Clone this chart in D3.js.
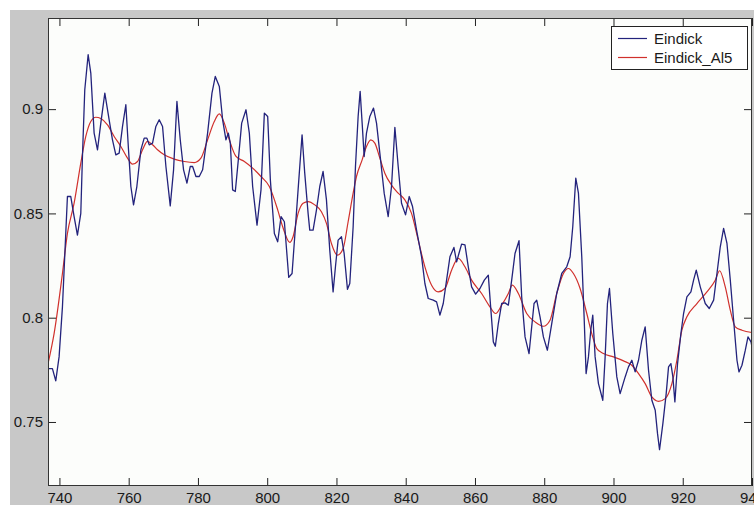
<!DOCTYPE html>
<html lang="en">
<head>
<meta charset="UTF-8">
<title>Eindick</title>
<script src="https://cdn.jsdelivr.net/npm/d3@7"></script>
<style>
  body { margin: 0; background: #fff; }
  .axis text { font: 15px "Liberation Sans", Arial, sans-serif; fill: #1a1a1a; }
  .axis path { display: none; }
  .axis line { stroke: #222; stroke-width: 1px; }
  .legend text { font: 15px "Liberation Sans", Arial, sans-serif; fill: #1a1a1a; }
</style>
</head>
<body>
<script>
// Eindick (raw)
let blueX = [736.8,737.98,738.94,739.9,740.87,741.83,742.31,743.28,744.24,745.2,746.17,746.65,747.32,748.29,749.06,750.02,
  750.99,751.95,753.11,754.36,755.32,756.29,757.25,758.22,759.18,759.95,760.63,761.4,762.36,763.52,764.48,765.25,765.93,
  766.89,767.85,768.82,769.78,770.75,772,772.96,773.93,774.89,775.85,776.82,777.78,778.46,779.42,780.38,781.35,782.79,
  784.05,785.01,786.17,787.13,788.09,788.77,789.35,790.02,790.79,791.66,792.63,793.88,794.84,795.8,797.06,798.21,799.18,
  800.14,800.91,802.07,803.03,804,804.96,806.22,807.18,807.95,808.92,810.07,810.84,811.81,812.29,813.25,814.22,815.18,
  816.14,817.11,818.07,819.03,819.71,820.48,821.45,822.22,823.18,823.85,824.82,825.49,826.26,826.84,827.42,828,828.67,
  829.64,830.7,831.57,832.53,833.78,834.94,835.9,836.87,837.83,838.79,839.95,841.01,841.97,843.13,844.58,845.54,846.5,
  847.95,848.91,849.88,850.84,851.8,852.77,853.92,854.7,855.37,856.14,857.11,858.07,859.03,860.19,861.44,862.7,863.85,
  864.53,865.3,865.88,866.74,867.71,868.67,869.64,870.6,871.56,872.72,873.49,874.46,875.61,876.38,877.06,877.83,878.79,
  879.76,880.91,882.17,883.61,885.06,886.5,887.47,888.24,889.11,889.88,890.84,891.52,892.09,892.77,893.44,894.02,894.7,
  895.66,896.91,897.59,898.26,898.84,899.8,900.96,901.92,903.37,904.33,905.3,906.26,907.23,908.19,909.15,910.12,911.08,
  912.05,912.72,913.3,914.26,915.22,915.9,916.58,917.15,917.73,918.5,919.47,920.24,921.2,922.36,923.13,923.9,925.06,
  926.5,927.66,928.92,929.88,930.84,931.8,932.77,933.73,934.69,935.66,936.24,937.1,938.07,938.84,939.71,940];
let blueY = [0.7756,0.7756,0.7697,0.7812,0.8052,0.8404,0.8581,0.8581,0.8485,0.8396,0.85,0.8773,0.9093,0.9261,0.9173,0.8885,
  0.8805,0.8933,0.9077,0.8949,0.8853,0.8781,0.8789,0.8917,0.9021,0.8805,0.8629,0.8541,0.8629,0.8805,0.8861,0.8861,0.8829,
  0.8837,0.8917,0.8949,0.8917,0.8725,0.8536,0.8709,0.9037,0.8853,0.8709,0.8645,0.8725,0.8725,0.8677,0.8677,0.8709,0.8885,
  0.9077,0.9157,0.9109,0.8949,0.8853,0.8885,0.8837,0.8613,0.8605,0.8757,0.8933,0.8997,0.8885,0.8629,0.8444,0.8613,0.8981,
  0.8965,0.8661,0.8404,0.8364,0.8485,0.846,0.8193,0.8212,0.8388,0.8613,0.8877,0.8693,0.85,0.842,0.842,0.8516,0.8629,
  0.8701,0.8565,0.8324,0.8124,0.8244,0.8372,0.8388,0.8308,0.8136,0.8164,0.8436,0.8725,0.8965,0.9085,0.8933,0.8773,0.8885,
  0.8965,0.9005,0.8933,0.8789,0.8597,0.8485,0.8629,0.8913,0.8725,0.8549,0.8493,0.8581,0.8533,0.842,0.8292,0.8164,0.8092,
  0.8084,0.8076,0.8012,0.8068,0.818,0.8292,0.8337,0.8268,0.8308,0.8353,0.8349,0.8244,0.8148,0.8113,0.814,0.818,0.8204,
  0.8052,0.7884,0.7863,0.7972,0.8068,0.8071,0.806,0.818,0.8308,0.8369,0.81,0.7908,0.7828,0.7956,0.8068,0.8084,0.8004,
  0.7908,0.7844,0.7972,0.8116,0.8212,0.8244,0.8292,0.8436,0.8669,0.8597,0.8292,0.8004,0.7732,0.7812,0.794,0.8012,0.7812,
  0.7684,0.7604,0.7812,0.8068,0.814,0.7924,0.7716,0.7636,0.7716,0.7764,0.7796,0.774,0.7796,0.7892,0.7956,0.7748,0.7604,
  0.7556,0.7444,0.7367,0.7492,0.7636,0.7764,0.778,0.7716,0.7596,0.778,0.7924,0.802,0.81,0.8124,0.818,0.8228,0.8148,
  0.8068,0.8044,0.8084,0.8212,0.834,0.8428,0.8356,0.818,0.7988,0.7796,0.774,0.7772,0.7844,0.7908,0.7884,0.786];

// Eindick_Al5 (smoothed)
let redX = [736.7,738.46,740.87,742.31,744.24,746.17,747.61,749.06,750.51,751.95,753.88,755.81,757.73,759.66,761.11,762.55,
  764,765.44,766.89,768.33,770.26,773.15,776.05,778.94,780.86,782.79,784.72,786.17,787.61,789.06,790.99,793.4,795.8,
  798.21,800.62,803.03,804.48,806.51,807.47,808.92,810.36,811.81,813.73,815.66,817.11,818.55,820.29,821.93,823.37,
  824.82,825.78,827.42,828.67,829.93,831.08,832.53,833.97,835.9,837.83,839.76,841.68,843.61,845.54,847.47,849.39,
  851.32,853.25,855.18,857.11,859.03,861.92,864.33,865.97,867.71,869.64,870.79,872.53,874.94,877.35,879.76,881.68,
  883.61,885.54,886.99,888.43,890.36,892.29,893.73,895.18,897.11,900,902.89,905.3,907.23,909.15,911.08,913.01,914.94,
  916.86,918.31,919.75,921.2,924.09,926.98,929.39,930.64,932.28,933.73,935.17,937.1,940];
let redY = [0.778,0.7924,0.8212,0.8404,0.8549,0.8741,0.8869,0.8941,0.8961,0.8955,0.8925,0.8869,0.8821,0.8765,0.8736,0.8749,
  0.8805,0.8845,0.8829,0.8805,0.8781,0.876,0.8749,0.8744,0.8765,0.8853,0.8941,0.8977,0.8933,0.8853,0.8773,0.8749,0.8717,
  0.8677,0.8629,0.8517,0.8436,0.8361,0.8388,0.85,0.8549,0.8557,0.8541,0.8508,0.8452,0.8356,0.83,0.8332,0.846,
  0.8597,0.8677,0.8757,0.8821,0.8853,0.8837,0.8765,0.8693,0.8636,0.8597,0.8565,0.85,0.8372,0.8244,0.8156,0.8124,
  0.814,0.8228,0.8284,0.8244,0.818,0.8116,0.8052,0.802,0.806,0.8116,0.8156,0.8116,0.802,0.798,0.7959,0.7988,
  0.8116,0.8212,0.8236,0.8212,0.814,0.802,0.7924,0.7852,0.7828,0.7812,0.7793,0.7772,0.7732,0.7684,0.762,0.7599,0.7612,
  0.7684,0.7796,0.794,0.8004,0.8068,0.8124,0.818,0.8225,0.8148,0.8036,0.7956,0.794,0.7929];

let xTicks = [740, 760, 780, 800, 820, 840, 860, 880, 900, 920, 940];
let yTicks = [0.75, 0.8, 0.85, 0.9];
let seriesNames = ['Eindick', 'Eindick_Al5'];
let seriesColors = ['#23237c', '#d0302c'];

let width = 754, height = 505;
let margin = {top: 18, right: 2, bottom: 19, left: 48};

let svg = d3.select('body').append('svg')
    .attr('width', width)
    .attr('height', height);

// figure background (grey) with the white strip on top / left
svg.append('rect').attr('width', width).attr('height', height).attr('fill', '#fff');
svg.append('rect').attr('x', 10).attr('y', 10)
    .attr('width', width - 10).attr('height', height - 10).attr('fill', '#c8c8c8');

let x = d3.scaleLinear().domain([736.7, 940]).range([margin.left, width - margin.right]);
let y = d3.scaleLinear().domain([0.7193, 0.9437]).range([height - margin.bottom, margin.top]);

let plotW = width - margin.left - margin.right;
let plotH = height - margin.top - margin.bottom;

svg.append('rect')
    .attr('x', margin.left).attr('y', margin.top)
    .attr('width', plotW).attr('height', plotH)
    .attr('fill', '#fcfdfb');

svg.append('clipPath').attr('id', 'clip')
  .append('rect')
    .attr('x', margin.left).attr('y', margin.top)
    .attr('width', plotW).attr('height', plotH);

// lines
let line = d3.line().x(d => x(d[0])).y(d => y(d[1]));
let smooth = d3.line().x(d => x(d[0])).y(d => y(d[1])).curve(d3.curveMonotoneX);

let g = svg.append('g').attr('clip-path', 'url(#clip)');

g.append('path')
    .datum(redX.map((d, i) => [d, redY[i]]))
    .attr('fill', 'none')
    .attr('stroke', seriesColors[1])
    .attr('stroke-width', 1.2)
    .attr('d', smooth);

g.append('path')
    .datum(blueX.map((d, i) => [d, blueY[i]]))
    .attr('fill', 'none')
    .attr('stroke', seriesColors[0])
    .attr('stroke-width', 1.3)
    .attr('stroke-linejoin', 'round')
    .attr('d', line);

// axes, ticks point inward
svg.append('g').attr('class', 'axis')
    .attr('transform', 'translate(0,' + (height - margin.bottom) + ')')
    .call(d3.axisBottom(x).tickValues(xTicks).tickSize(-8).tickPadding(6).tickFormat(d3.format('d')));

svg.append('g').attr('class', 'axis')
    .attr('transform', 'translate(0,' + margin.top + ')')
    .call(d3.axisTop(x).tickValues(xTicks).tickSize(-8).tickFormat(''));

svg.append('g').attr('class', 'axis')
    .attr('transform', 'translate(' + margin.left + ',0)')
    .call(d3.axisLeft(y).tickValues(yTicks).tickSize(-8).tickPadding(5).tickFormat(d => String(d)));

svg.append('g').attr('class', 'axis')
    .attr('transform', 'translate(' + (width - margin.right) + ',0)')
    .call(d3.axisRight(y).tickValues(yTicks).tickSize(-8).tickFormat(''));

// box
svg.append('rect')
    .attr('x', margin.left + 0.5).attr('y', margin.top + 0.5)
    .attr('width', plotW - 1).attr('height', plotH - 1)
    .attr('fill', 'none').attr('stroke', '#333').attr('stroke-width', 1);

// legend
let legend = svg.append('g').attr('class', 'legend').attr('transform', 'translate(611,26)');
legend.append('rect')
    .attr('x', 0.5).attr('y', 0.5).attr('width', 136).attr('height', 43)
    .attr('fill', '#fff').attr('stroke', '#222');

let items = legend.selectAll('.item')
    .data(seriesNames)
    .enter().append('g')
    .attr('class', 'item')
    .attr('transform', (d, i) => 'translate(0,' + (12.5 + i * 19) + ')');

items.append('line')
    .attr('x1', 7).attr('x2', 36)
    .attr('stroke', (d, i) => seriesColors[i])
    .attr('stroke-width', 1.2);

items.append('text')
    .attr('x', 43).attr('dy', '0.35em')
    .text(d => d);
</script>
</body>
</html>
